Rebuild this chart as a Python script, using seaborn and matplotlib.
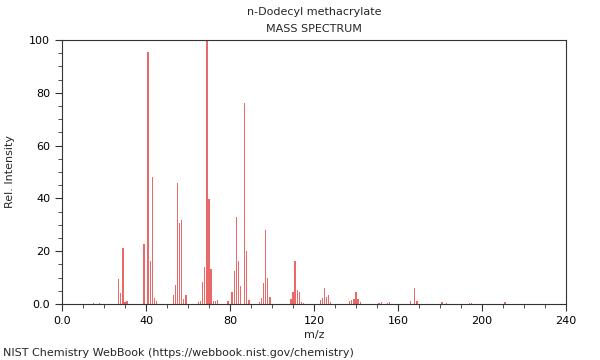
import matplotlib
matplotlib.use("Agg")
import matplotlib.pyplot as plt
from matplotlib.ticker import MultipleLocator, FuncFormatter
import pandas as pd
import seaborn as sns

# peaks
mz = [15, 18, 27, 28, 29, 30, 31, 39, 41, 42, 43, 44, 45,
      53, 54, 55, 56, 57, 58, 59, 65, 66, 67, 68, 69, 70, 71, 72, 73, 74,
      79, 81, 82, 83, 84, 85, 87, 88, 89, 94, 95, 96, 97, 98, 99,
      109, 110, 111, 112, 113, 114, 115, 123, 124, 125, 126, 127, 128,
      137, 138, 139, 140, 141, 142, 151, 152, 155, 156, 166, 168, 169,
      181, 183, 194, 195, 211]
intensity = [0.5, 0.4, 9.5, 4.2, 21.1, 0.9, 1.2, 22.7, 95.6, 16.4, 48.0, 2.1, 1.1,
             3.4, 7.2, 46.0, 30.5, 31.7, 1.9, 3.4, 0.8, 1.2, 8.5, 14.0, 100.0, 39.8, 13.3, 1.1, 1.0, 1.4,
             1.0, 4.4, 12.5, 32.8, 16.3, 6.9, 76.0, 20.0, 1.4, 0.6, 2.1, 7.8, 28.0, 9.7, 2.6,
             1.8, 4.7, 16.4, 5.4, 4.5, 0.8, 0.4, 1.5, 2.3, 6.1, 2.8, 3.4, 0.6,
             1.1, 1.5, 1.8, 4.4, 2.0, 0.6, 0.5, 0.6, 0.5, 0.6, 1.1, 6.1, 1.0,
             0.7, 0.3, 0.2, 0.2, 0.6]

df = pd.DataFrame({"mz": mz, "intensity": intensity})

sns.set_style("white")
plt.rcParams["font.family"] = ["DejaVu Sans"]
plt.rcParams["font.size"] = 8

fig = plt.figure(figsize=(6, 3.6), dpi=100)
ax = fig.add_axes([62 / 600, 1 - 304 / 360, 504 / 600, 264 / 360])

sns.barplot(data=df, x="mz", y="intensity", native_scale=True, width=0.6,
            color="#ff4040", errorbar=None, linewidth=0, alpha=0.9, ax=ax)

ax.set_xlim(0, 240)
ax.set_ylim(0, 100)
ax.xaxis.set_major_locator(MultipleLocator(40))
ax.xaxis.set_minor_locator(MultipleLocator(10))
ax.yaxis.set_major_locator(MultipleLocator(20))
ax.yaxis.set_minor_locator(MultipleLocator(5))
fmt = FuncFormatter(lambda v, p: "0.0" if v == 0 else f"{v:.0f}")
ax.xaxis.set_major_formatter(fmt)
ax.yaxis.set_major_formatter(fmt)
ax.tick_params(which="major", direction="out", length=5, width=0.8, colors="#333333",
               labelsize=8, labelcolor="black", bottom=True, left=True)
ax.tick_params(which="minor", direction="out", length=3, width=0.6, colors="#333333",
               bottom=True, left=True)
for s in ax.spines.values():
    s.set_visible(True)
    s.set_color("#333333")
    s.set_linewidth(0.8)

ax.set_xlabel("m/z", fontsize=8, labelpad=3)
ax.set_ylabel("Rel. Intensity", fontsize=8, labelpad=10)
ax.set_title("n-Dodecyl methacrylate\nMASS SPECTRUM", fontsize=8, linespacing=1.8, pad=6)
fig.text(3 / 600, 1 - 353 / 360, "NIST Chemistry WebBook (https://webbook.nist.gov/chemistry)",
         fontsize=8, ha="left", va="center")

fig.savefig("out.png", dpi=100)
